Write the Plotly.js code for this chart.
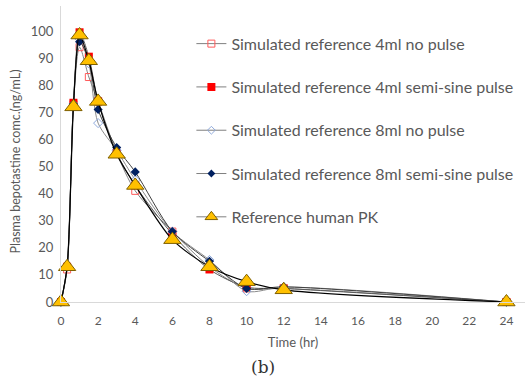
<!DOCTYPE html>
<html>
<head>
<meta charset="utf-8">
<script src="https://cdn.plot.ly/plotly-3.0.1.min.js"></script>
<style>
  html, body { margin: 0; padding: 0; background: #fff; }
  #chart { width: 532px; height: 377px; }
</style>
</head>
<body>
<div id="chart"></div>
<script>
// Sampling times (hr)
const timeHr = [0, 0.33, 0.67, 1, 1.5, 2, 3, 4, 6, 8, 10, 12, 24];

// Plasma bepotastine concentration (ng/mL)
const sim4mlNoPulse   = [0, 12, 73, 94, 83, 74, 55, 41, 26, 13, 5, 5, 0];
const sim4mlSemiSine  = [0, 13, 73.5, 99.5, 90.5, 74, 55, 43, 25, 12, 5.5, 5, 0];
const sim8mlNoPulse   = [0, 13, 73, 97, 88, 66, 56, 45, 26, 15.5, 4, 5.5, 0];
const sim8mlSemiSine  = [0, 13, 73, 96, 89, 71, 57, 48, 26, 15, 5, 5.6, 0];
const humanPK         = [0, 13, 72, 98.5, 89, 74, 54.5, 43, 23, 13, 7.5, 4.5, 0];

const seriesNames = [
  'Simulated reference 4ml no pulse',
  'Simulated reference 4ml semi-sine pulse',
  'Simulated reference 8ml no pulse',
  'Simulated reference 8ml semi-sine pulse',
  'Reference human PK'
];

const FONT = 'Lato, "Open Sans", sans-serif';
const TXT = '#595959';

// Series styles: line colour/width, plotted marker, smaller legend marker
const styles = [
  { line: '#7f7f7f', w: 1,
    marker: { symbol: 'square-open', size: 7, color: '#ff5b5b', line: { width: 1 } },
    key:    { symbol: 'square-open', size: 7, color: '#ff5b5b', line: { width: 1 } } },
  { line: '#595959', w: 1,
    marker: { symbol: 'square', size: 8, color: '#ff0000' },
    key:    { symbol: 'square', size: 8, color: '#ff0000' } },
  { line: '#8c8c8c', w: 1,
    marker: { symbol: 'diamond-open', size: 7, color: '#8faadc', line: { width: 1 } },
    key:    { symbol: 'diamond-open', size: 6, color: '#8faadc', line: { width: 1 } } },
  { line: '#404040', w: 1,
    marker: { symbol: 'diamond', size: 7, color: '#002060' },
    key:    { symbol: 'diamond', size: 6, color: '#002060' } },
  { line: '#000000', w: 1.2,
    marker: { symbol: 'triangle-up', size: 15, color: '#ffc000', line: { color: '#7f6000', width: 1 } },
    key:    { symbol: 'triangle-up', size: 11, color: '#ffc000', line: { color: '#7f6000', width: 1 } } }
];
const values = [sim4mlNoPulse, sim4mlSemiSine, sim8mlNoPulse, sim8mlSemiSine, humanPK];

const data = [];
values.forEach((y, i) => {
  const s = styles[i];
  data.push({
    x: timeHr, y: y, name: seriesNames[i], type: 'scatter', mode: 'lines+markers',
    line: { color: s.line, width: s.w, shape: 'spline', smoothing: 0.8 },
    marker: s.marker, cliponaxis: false, showlegend: false, legendgroup: 'g' + i
  });
});
// Legend keys with compact markers
values.forEach((y, i) => {
  const s = styles[i];
  data.push({
    x: [null], y: [null], name: seriesNames[i], type: 'scatter', mode: 'lines+markers',
    line: { color: '#7f7f7f', width: 1 }, marker: s.key,
    showlegend: true, legendgroup: 'g' + i, hoverinfo: 'skip'
  });
});

const layout = {
  width: 532, height: 377,
  margin: { l: 61, r: 7, t: 6, b: 75 },
  paper_bgcolor: '#ffffff', plot_bgcolor: '#ffffff',
  font: { family: FONT, color: TXT, size: 12 },
  showlegend: true,
  legend: {
    x: 0.281, y: 0.93, xanchor: 'left', yanchor: 'top',
    font: { family: FONT, size: 16, color: TXT },
    tracegroupgap: 19.5, bgcolor: 'rgba(255,255,255,0)', itemwidth: 30
  },
  xaxis: {
    range: [0, 25], tickvals: [0,2,4,6,8,10,12,14,16,18,20,22,24],
    showgrid: false, zeroline: false, showline: true, linecolor: '#d9d9d9', linewidth: 1,
    ticks: '', ticklabelstandoff: 8, tickfont: { size: 12, color: TXT },
    title: { text: 'Time (hr)', font: { size: 13, color: TXT }, standoff: 10 }
  },
  yaxis: {
    range: [0, 109.2], tickvals: [0,10,20,30,40,50,60,70,80,90,100],
    showgrid: false, zeroline: false, showline: true, linecolor: '#d9d9d9', linewidth: 1,
    ticks: '', ticklabelstandoff: 4, tickfont: { size: 13, color: TXT }
  },
  annotations: [
    {
      text: 'Plasma bepotastine comc.(ng/mL)', xref: 'paper', yref: 'paper',
      x: -0.099, y: 0.475, xanchor: 'center', yanchor: 'middle', textangle: -90,
      showarrow: false, font: { family: FONT, size: 12.5, color: TXT }
    },
    {
      text: '(b)', xref: 'paper', yref: 'paper', x: 0.435, y: -0.218,
      xanchor: 'center', yanchor: 'middle', showarrow: false,
      font: { family: '"DejaVu Serif", serif', size: 17, color: '#333333' }
    }
  ]
};

Plotly.newPlot('chart', data, layout, { displayModeBar: false, staticPlot: true });
</script>
</body>
</html>
